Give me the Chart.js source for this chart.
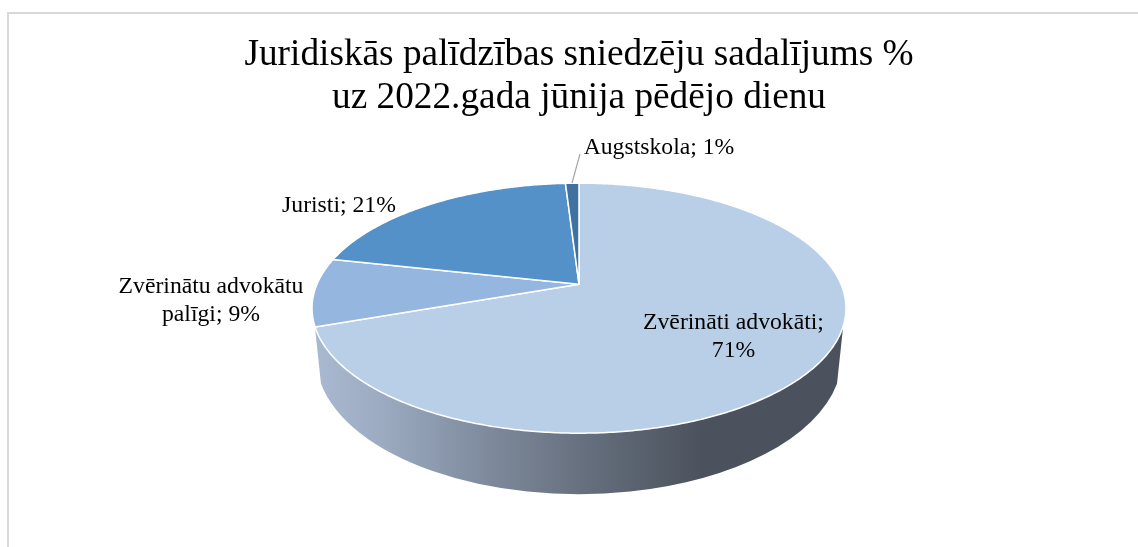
<!DOCTYPE html>
<html><head><meta charset="utf-8">
<style>html,body{margin:0;padding:0;background:#fff}canvas{display:block}</style>
<script src="https://cdn.jsdelivr.net/npm/chart.js@4"></script>
</head><body>
<div style="width:1138px;height:547px;position:relative"><canvas id="c" width="1138" height="547"></canvas></div>
<script>
const titleLines = ['Juridiskās palīdzības sniedzēju sadalījums %','uz 2022.gada jūnija pēdējo dienu'];
const categories = ['Zvērināti advokāti','Zvērinātu advokātu palīgi','Juristi','Augstskola'];
const values = [71, 9, 21, 1];
const colors = ['#B9CFE8','#95B6DE','#5591C9','#41719F'];

const FONT = '"Liberation Serif","Times New Roman",serif';
const TILT = {k:-0.192, bx:262, by:120.4};
const labelBoxes = [
  {x:733.5,y:329,lines:['Zvērināti advokāti;','71%']},
  {x:211,y:293,lines:['Zvērinātu advokātu','palīgi; 9%']},
  {x:339,y:212,lines:['Juristi; 21%']},
  {x:659,y:154,lines:['Augstskola; 1%']}
];

function proj(el,a){
  const u=Math.cos(a),v=Math.sin(a),w=1+TILT.k*v;
  return [el.x+TILT.bx*u/w, el.y+TILT.by*v/w];
}
function rim(ctx,el,a0,a1,first){
  const n=Math.max(2,Math.ceil(Math.abs(a1-a0)/0.01));
  for(let i=0;i<=n;i++){
    const p=proj(el,a0+(a1-a0)*i/n);
    if(i===0&&first)ctx.moveTo(p[0],p[1]);else ctx.lineTo(p[0],p[1]);
  }
}
const pie3d={
  id:'pie3d',
  beforeDraw(chart){
    const ctx=chart.ctx;
    ctx.save();
    ctx.fillStyle='#fff';ctx.fillRect(0,0,chart.width,chart.height);
    ctx.strokeStyle='#D9D9D9';ctx.lineWidth=2;
    ctx.beginPath();ctx.moveTo(8,chart.height);ctx.lineTo(8,13);ctx.lineTo(chart.width,13);ctx.stroke();
    ctx.restore();
  },
  beforeDatasetDraw(chart,args){
    const ctx=chart.ctx,meta=args.meta,el=meta.data[0];
    ctx.save();
    const g=ctx.createLinearGradient(el.x-260,0,el.x+125,0);
    g.addColorStop(0,'#A8B8D0');g.addColorStop(0.16,'#9CABC1');g.addColorStop(0.42,'#808C9F');
    g.addColorStop(0.72,'#636C7A');g.addColorStop(1,'#4B525D');
    ctx.fillStyle=g;
    const aR=0.333,aL=Math.PI-aR;
    const rx=263,ry=137,off=Math.asin(0.194);
    ctx.beginPath();
    rim(ctx,el,aR,aL,true);
    ctx.ellipse(el.x,el.y+73,rx,ry,0,Math.PI-off,off,true);
    ctx.closePath();ctx.fill();
    ctx.restore();
    meta.data.forEach((a,i)=>{
      const s=a.startAngle,e=a.endAngle;
      ctx.save();
      ctx.beginPath();ctx.moveTo(a.x,a.y);
      rim(ctx,a,s,e,false);
      ctx.closePath();
      ctx.fillStyle=colors[i];ctx.fill();
      ctx.strokeStyle='#fff';ctx.lineWidth=1.5;ctx.lineJoin='round';ctx.stroke();
      ctx.restore();
    });
    return false;
  },
  afterDraw(chart){
    const ctx=chart.ctx;
    ctx.save();
    ctx.strokeStyle='#A6A6A6';ctx.lineWidth=1.2;
    ctx.beginPath();ctx.moveTo(572,183);ctx.lineTo(580,154);ctx.stroke();
    ctx.fillStyle='#000';ctx.textAlign='center';ctx.textBaseline='alphabetic';
    ctx.font='23.7px '+FONT;
    labelBoxes.forEach(b=>b.lines.forEach((t,j)=>ctx.fillText(t,b.x,b.y+j*28)));
    ctx.restore();
  }
};
new Chart(document.getElementById('c'),{
  type:'pie',
  data:{labels:categories,datasets:[{data:values,backgroundColor:colors,borderColor:'#fff',borderWidth:1.5}]},
  options:{
    responsive:false,animation:false,
    layout:{padding:{left:20,top:0,right:0,bottom:109}},
    plugins:{
      legend:{display:false},tooltip:{enabled:false},
      title:{display:true,text:titleLines,color:'#000',font:{family:FONT,size:37.3,weight:'normal',lineHeight:1.16},padding:{top:33.5,bottom:10.3}}
    }
  },
  plugins:[pie3d]
});
</script>
</body></html>
